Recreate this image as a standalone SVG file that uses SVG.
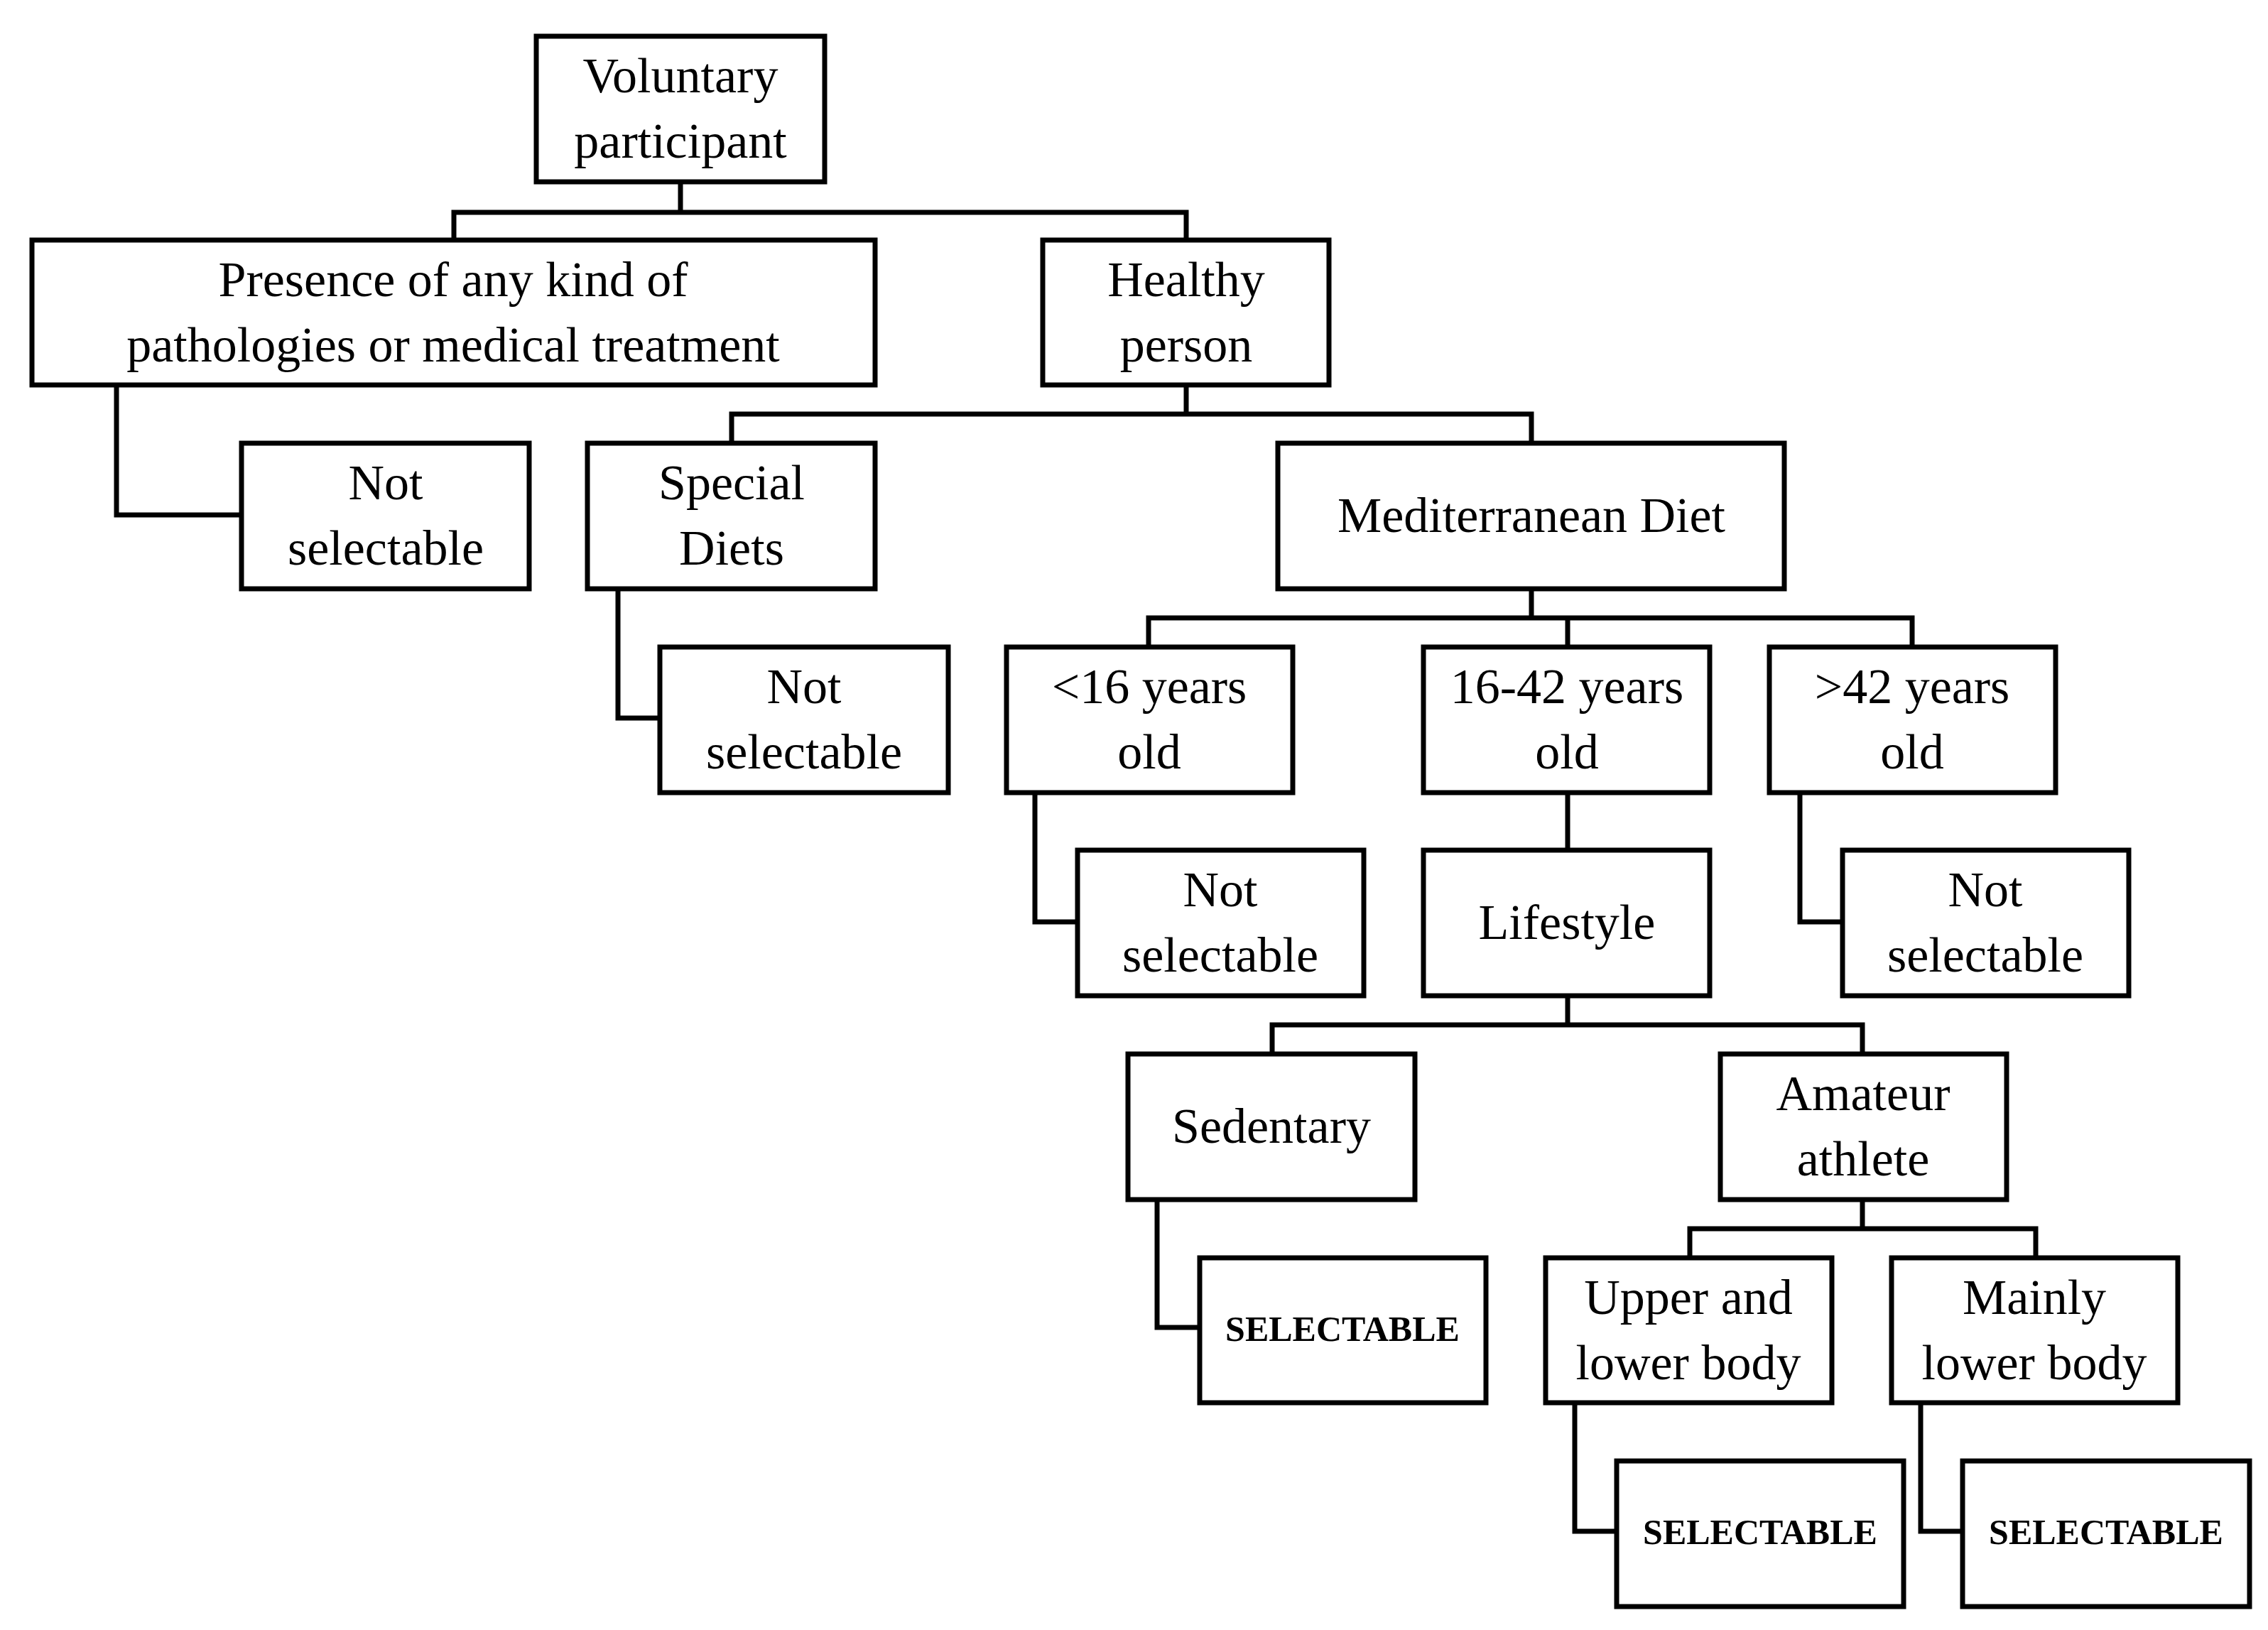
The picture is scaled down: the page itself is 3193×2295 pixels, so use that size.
<svg xmlns="http://www.w3.org/2000/svg" width="3193" height="2295" viewBox="0 0 3193 2295">
<style>
rect{fill:#fff;stroke:#000;stroke-width:7}
.c path{fill:none;stroke:#000;stroke-width:7}
text{font-family:"Liberation Serif",serif;font-size:70px;text-anchor:middle;fill:#000}
.b{font-weight:bold;font-size:50px}
</style>
<g class="c">
<path d="M958 256V299M639 338V299H1670V338"/>
<path d="M164 542V725H340"/>
<path d="M1670 542V583M1030 624V583H2156V624"/>
<path d="M870 829V1011H929"/>
<path d="M2156 829V870M1617 911V870H2692V911M2207 870V911"/>
<path d="M1457 1116V1298H1517"/>
<path d="M2207 1116V1197"/>
<path d="M2534 1116V1298H2594"/>
<path d="M2207 1402V1443M1791 1484V1443H2622V1484"/>
<path d="M1629 1689V1869H1689"/>
<path d="M2622 1689V1730M2379 1771V1730H2866V1771"/>
<path d="M2217 1975V2156H2276"/>
<path d="M2704 1975V2156H2763"/>
</g>
<g id="voluntary"><rect x="755" y="51" width="406" height="205"/><text x="958" y="130">Voluntary</text><text x="958" y="222">participant</text></g>
<g id="presence"><rect x="45" y="338" width="1187" height="204"/><text x="638" y="417">Presence of any kind of</text><text x="638" y="509">pathologies or medical treatment</text></g>
<g id="healthy"><rect x="1468" y="338" width="403" height="204"/><text x="1670" y="417">Healthy</text><text x="1670" y="509">person</text></g>
<g id="ns1"><rect x="340" y="624" width="405" height="205"/><text x="543" y="703">Not</text><text x="543" y="795">selectable</text></g>
<g id="special"><rect x="827" y="624" width="405" height="205"/><text x="1030" y="703">Special</text><text x="1030" y="795">Diets</text></g>
<g id="med"><rect x="1799" y="624" width="713" height="205"/><text x="2156" y="749">Mediterranean Diet</text></g>
<g id="ns2"><rect x="929" y="911" width="406" height="205"/><text x="1132" y="990">Not</text><text x="1132" y="1082">selectable</text></g>
<g id="lt16"><rect x="1417" y="911" width="403" height="205"/><text x="1618" y="990">&lt;16 years</text><text x="1618" y="1082">old</text></g>
<g id="mid"><rect x="2004" y="911" width="403" height="205"/><text x="2206" y="990">16-42 years</text><text x="2206" y="1082">old</text></g>
<g id="gt42"><rect x="2491" y="911" width="403" height="205"/><text x="2692" y="990">&gt;42 years</text><text x="2692" y="1082">old</text></g>
<g id="ns3"><rect x="1517" y="1197" width="403" height="205"/><text x="1718" y="1276">Not</text><text x="1718" y="1368">selectable</text></g>
<g id="lifestyle"><rect x="2004" y="1197" width="403" height="205"/><text x="2206" y="1322">Lifestyle</text></g>
<g id="ns4"><rect x="2594" y="1197" width="403" height="205"/><text x="2795" y="1276">Not</text><text x="2795" y="1368">selectable</text></g>
<g id="sedentary"><rect x="1588" y="1484" width="404" height="205"/><text x="1790" y="1609">Sedentary</text></g>
<g id="amateur"><rect x="2422" y="1484" width="403" height="205"/><text x="2623" y="1563">Amateur</text><text x="2623" y="1655">athlete</text></g>
<g id="sel1"><rect x="1689" y="1771" width="403" height="204"/><text class="b" x="1890" y="1888">SELECTABLE</text></g>
<g id="upper"><rect x="2176" y="1771" width="403" height="204"/><text x="2377" y="1850">Upper and</text><text x="2377" y="1942">lower body</text></g>
<g id="mainly"><rect x="2663" y="1771" width="403" height="204"/><text x="2864" y="1850">Mainly</text><text x="2864" y="1942">lower body</text></g>
<g id="sel2"><rect x="2276" y="2057" width="404" height="205"/><text class="b" x="2478" y="2174">SELECTABLE</text></g>
<g id="sel3"><rect x="2763" y="2057" width="404" height="205"/><text class="b" x="2965" y="2174">SELECTABLE</text></g>
</svg>
